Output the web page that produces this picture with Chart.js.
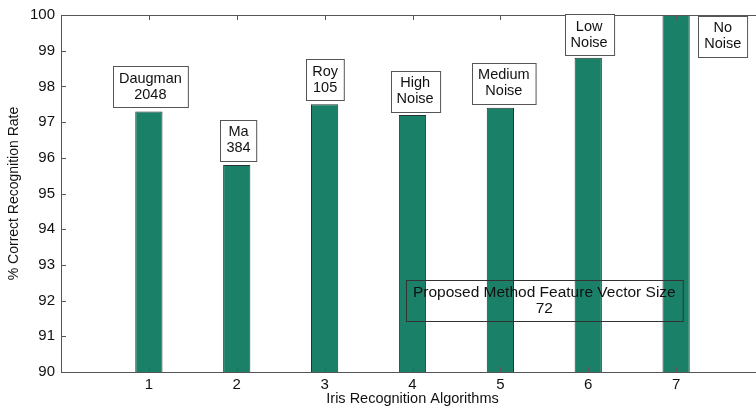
<!DOCTYPE html>
<html>
<head>
<meta charset="utf-8">
<script src="https://cdn.jsdelivr.net/npm/chart.js@4/dist/chart.umd.min.js"></script>
<style>
  html, body { margin: 0; padding: 0; background: #fff; overflow: hidden; }
  #wrap { width: 772px; height: 408px; }
</style>
</head>
<body>
<div id="wrap"><canvas id="c" width="772" height="408"></canvas></div>
<script>
// Algorithm index on the x axis and recognition rate (%) for each
const algorithms = [1, 2, 3, 4, 5, 6, 7];
const recognitionRate = [97.3, 95.8, 97.5, 97.2, 97.4, 98.8, 100];
const yTicks = [90, 91, 92, 93, 94, 95, 96, 97, 98, 99, 100];
const xTicks = [1, 2, 3, 4, 5, 6, 7];

// Callout text for each bar, plus the note about the proposed method
const callouts = [
  ['Daugman', '2048'],
  ['Ma', '384'],
  ['Roy', '105'],
  ['High', 'Noise'],
  ['Medium', 'Noise'],
  ['Low', 'Noise'],
  ['No', 'Noise']
];
const noteText = ['Proposed Method Feature Vector Size', '72'];

// Where each callout box is centred, in axis units
const calloutPlacement = {
  x: [1.017, 2.02, 3.006, 4.03, 5.04, 6.01, 7.53],
  y: [97.99, 96.49, 98.19, 97.87, 98.09, 99.44, 99.40]
};
const notePlacement = { x: 5.5, y: 92.0 };

const FONT = '"Liberation Sans", Arial, sans-serif';
const AXIS_COLOR = '#555';

// Box frame with inward-pointing tick marks
const frame = {
  id: 'frame',
  afterDatasetsDraw(chart) {
    const { ctx, chartArea: a, scales } = chart;
    ctx.save();
    ctx.strokeStyle = AXIS_COLOR;
    ctx.lineWidth = 1;
    ctx.beginPath();
    ctx.moveTo(a.left + 0.5, a.top + 0.5);
    ctx.lineTo(a.right + 0.5, a.top + 0.5);
    ctx.lineTo(a.right + 0.5, a.bottom + 0.5);
    ctx.lineTo(a.left + 0.5, a.bottom + 0.5);
    ctx.closePath();
    const len = 5;
    yTicks.forEach(v => {
      const py = Math.round(scales.y.getPixelForValue(v)) + 0.5;
      ctx.moveTo(a.left, py); ctx.lineTo(a.left + len, py);
      ctx.moveTo(a.right, py); ctx.lineTo(a.right - len, py);
    });
    xTicks.forEach(v => {
      const px = Math.round(scales.x.getPixelForValue(v)) + 0.5;
      ctx.moveTo(px, a.top); ctx.lineTo(px, a.top + len);
      ctx.moveTo(px, a.bottom); ctx.lineTo(px, a.bottom - len);
    });
    ctx.stroke();
    ctx.restore();
  }
};

const LINE_H = 16;

function drawLines(ctx, lines, cx, cy) {
  ctx.fillStyle = '#111';
  ctx.textAlign = 'center';
  ctx.textBaseline = 'middle';
  lines.forEach((t, i) => {
    ctx.fillText(t, cx, cy + (i - (lines.length - 1) / 2) * LINE_H);
  });
}

// Callout boxes over the bars and the transparent note box
const callout = {
  id: 'callout',
  afterDraw(chart) {
    const { ctx, scales } = chart;
    ctx.save();
    ctx.lineWidth = 1;
    callouts.forEach((lines, i) => {
      const cx = scales.x.getPixelForValue(calloutPlacement.x[i]);
      const cy = scales.y.getPixelForValue(calloutPlacement.y[i]);
      ctx.font = '14.5px ' + FONT;
      const w = Math.max(...lines.map(t => ctx.measureText(t).width)) + 12;
      const h = lines.length * LINE_H + 9;
      const x0 = Math.round(cx - w / 2) + 0.5;
      const y0 = Math.round(cy - h / 2) + 0.5;
      ctx.fillStyle = '#fff';
      ctx.strokeStyle = '#555';
      ctx.fillRect(x0, y0, w, h);
      ctx.strokeRect(x0, y0, w, h);
      drawLines(ctx, lines, cx, cy);
    });
    // note box: outline only, bars show through
    const cx = scales.x.getPixelForValue(notePlacement.x);
    const cy = scales.y.getPixelForValue(notePlacement.y);
    ctx.font = '15.5px ' + FONT;
    const w = Math.max(...noteText.map(t => ctx.measureText(t).width)) + 14;
    const h = noteText.length * LINE_H + 9;
    ctx.strokeStyle = '#333';
    ctx.strokeRect(Math.round(cx - w / 2) + 0.5, Math.round(cy - h / 2) + 0.5, w, h);
    drawLines(ctx, noteText, cx, cy);
    ctx.restore();
  }
};

new Chart(document.getElementById('c'), {
  type: 'bar',
  data: {
    datasets: [{
      data: algorithms.map((a, i) => ({ x: a, y: recognitionRate[i] })),
      backgroundColor: '#1b8068',
      borderColor: '#26332f',
      borderWidth: 1,
      barPercentage: 0.31,
      categoryPercentage: 1.0
    }]
  },
  options: {
    responsive: false,
    animation: false,
    devicePixelRatio: 1,
    layout: { padding: { top: 14, right: 8, left: 0, bottom: 0 } },
    plugins: { legend: { display: false }, tooltip: { enabled: false } },
    scales: {
      x: {
        type: 'linear',
        min: 0,
        max: 8,
        offset: false,
        grid: { display: false, drawTicks: false },
        border: { display: false },
        afterBuildTicks: s => { s.ticks = xTicks.map(v => ({ value: v })); },
        afterFit: s => { s.height = 36; },
        ticks: {
          color: '#111',
          padding: 4,
          font: { family: FONT, size: 15 },
          maxRotation: 0,
          callback: v => String(v)
        },
        title: {
          display: true,
          text: 'Iris Recognition Algorithms',
          color: '#111',
          padding: { top: 0, bottom: 0 },
          font: { family: FONT, size: 14.5 }
        }
      },
      y: {
        min: 90,
        max: 100,
        grid: { display: false, drawTicks: false },
        border: { display: false },
        afterBuildTicks: s => { s.ticks = yTicks.map(v => ({ value: v })); },
        afterFit: s => { s.width = 61; },
        ticks: {
          color: '#111',
          padding: 6,
          font: { family: FONT, size: 15 }
        },
        title: {
          display: true,
          text: '% Correct Recognition Rate',
          color: '#111',
          padding: { top: 6, bottom: 0 },
          font: { family: FONT, size: 14 }
        }
      }
    }
  },
  plugins: [frame, callout]
});
</script>
</body>
</html>
